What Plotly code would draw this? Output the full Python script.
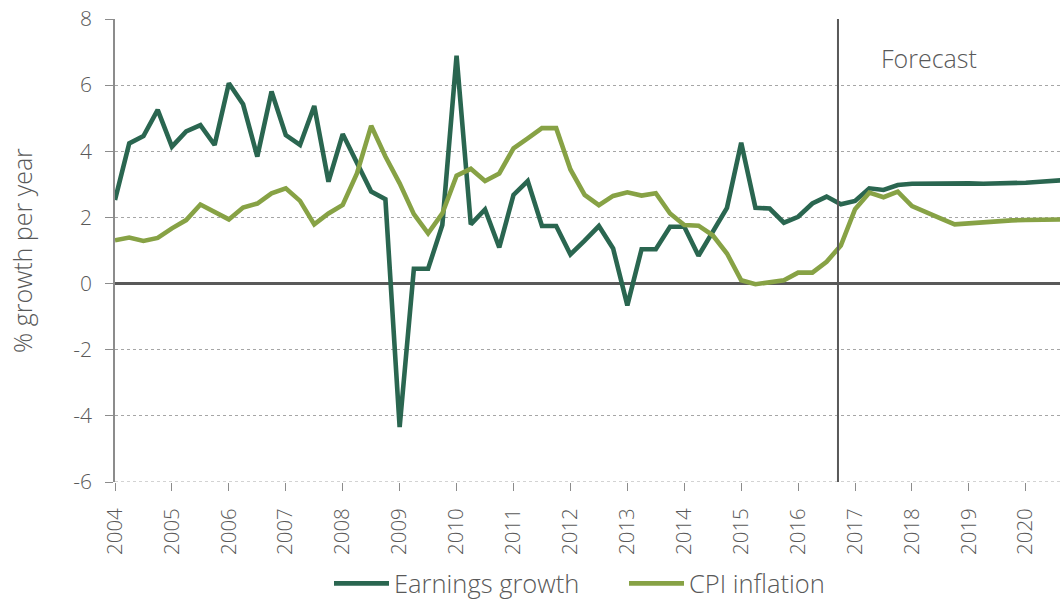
import plotly.graph_objects as go

start_year = 2004
earnings_growth = [
    2.53, 4.24, 4.46, 5.25, 4.14, 4.60, 4.79, 4.19, 6.06, 5.42, 3.84, 5.81,
    4.49, 4.19, 5.37, 3.08, 4.52, 3.64, 2.78, 2.55, -4.34, 0.45, 0.45, 1.77,
    6.89, 1.79, 2.24, 1.09, 2.68, 3.10, 1.74, 1.74, 0.88, 1.30, 1.74, 1.06,
    -0.66, 1.04, 1.04, 1.72, 1.72, 0.84, 1.55, 2.29, 4.26, 2.29, 2.27, 1.84,
    2.02, 2.42, 2.63, 2.40, 2.50, 2.88, 2.83, 2.98, 3.02, 3.03, 3.03, 3.03,
    3.03, 3.02, 3.02, 3.03, 3.05, 3.08, 3.11, 3.14,
]
cpi_inflation = [
    1.31, 1.39, 1.29, 1.38, 1.67, 1.92, 2.39, 2.17, 1.94, 2.30, 2.42, 2.73,
    2.88, 2.50, 1.79, 2.12, 2.38, 3.33, 4.77, 3.84, 3.03, 2.10, 1.52, 2.12,
    3.26, 3.47, 3.10, 3.33, 4.09, 4.39, 4.70, 4.70, 3.45, 2.68, 2.37, 2.65,
    2.76, 2.66, 2.73, 2.12, 1.77, 1.75, 1.46, 0.91, 0.10, -0.02, 0.03, 0.10,
    0.33, 0.33, 0.66, 1.15, 2.25, 2.75, 2.61, 2.78, 2.34, 2.17, 1.97, 1.79,
    1.82, 1.87, 1.90, 1.91, 1.92, 1.93, 1.94, 1.94,
]
year_ticks = list(range(2004, 2021))
year_labels = [str(y) for y in year_ticks]
forecast_start = 2016.7
y_ticks = [-6, -4, -2, 0, 2, 4, 6, 8]
y_labels = ["-6", "-4", "-2", "0", "2", "4", "6", "8"]

x = [start_year + i / 4 for i in range(len(earnings_growth))]

DARK = "#2a6650"
LIGHT = "#87a245"
GRAY = "#595959"
AXIS = "#8c8c8c"
GRID = "#a6a6a6"
FONT = "Open Sans"

W, H = 1060, 599
L, R, T, B = 115, 0, 19, 116.8
PH = H - T - B
PW = W - L - R

def px_to_paper_x(px):
    return (px - L) / PW

def px_to_paper_y(py):
    return (H - B - py) / PH

fig = go.Figure()
fig.add_trace(go.Scatter(x=x, y=earnings_growth, mode="lines", name="Earnings growth",
                         line=dict(color=DARK, width=4.6)))
fig.add_trace(go.Scatter(x=x, y=cpi_inflation, mode="lines", name="CPI inflation",
                         line=dict(color=LIGHT, width=4.6)))

# bottom dotted gridline at the lower range edge
fig.add_shape(type="line", x0=0, x1=1, xref="paper", y0=y_ticks[0], y1=y_ticks[0], yref="y",
              line=dict(color=GRID, width=1, dash="dot"), layer="below")
fig.add_shape(type="line", x0=forecast_start, x1=forecast_start, xref="x",
              y0=0, y1=1, yref="paper", line=dict(color=GRAY, width=2))
fig.add_annotation(text="Forecast", x=px_to_paper_x(929), xref="paper",
                   y=px_to_paper_y(58), yref="paper", xanchor="center", yanchor="middle",
                   showarrow=False, font=dict(size=25, color=GRAY, family=FONT, weight=300))
fig.add_annotation(text="% growth per year", x=px_to_paper_x(22), xref="paper",
                   y=px_to_paper_y(251), yref="paper", xanchor="center", yanchor="middle",
                   textangle=-90, showarrow=False,
                   font=dict(size=25, color=GRAY, family=FONT, weight=300))

fig.update_layout(
    width=W, height=H,
    margin=dict(l=L, r=R, t=T, b=B, pad=0, autoexpand=False),
    plot_bgcolor="white", paper_bgcolor="white",
    font=dict(family=FONT, size=21, color=GRAY, weight=300),
    showlegend=True,
    legend=dict(orientation="h", x=px_to_paper_x(329), xanchor="left",
                y=px_to_paper_y(584), yanchor="middle", bgcolor="rgba(0,0,0,0)",
                font=dict(size=25.5, color=GRAY, weight=300), itemwidth=55,
                entrywidth=225, traceorder="normal"),
    xaxis=dict(range=[2004, 2020.6], tickmode="array", tickvals=year_ticks,
               ticktext=year_labels, tickangle=-90, ticks="outside", ticklen=8,
               tickcolor=AXIS, showgrid=False, zeroline=False, showline=False,
               ticklabelstandoff=9,
               tickfont=dict(size=20.5, color=GRAY, weight=300)),
    yaxis=dict(range=[-6, 8], tickmode="array", tickvals=y_ticks, ticktext=y_labels,
               ticks="outside", ticklen=8, tickcolor=AXIS, ticklabelstandoff=9,
               showline=True, linecolor=AXIS, linewidth=1.5,
               showgrid=True, gridcolor=GRID, griddash="dot", gridwidth=1,
               zeroline=True, zerolinecolor=GRAY, zerolinewidth=2.5,
               tickfont=dict(size=21, color=GRAY, weight=300)),
)

fig.write_html("out.html", config={"displayModeBar": False},
               post_script="document.body.style.margin='0';document.body.style.overflow='hidden';")
